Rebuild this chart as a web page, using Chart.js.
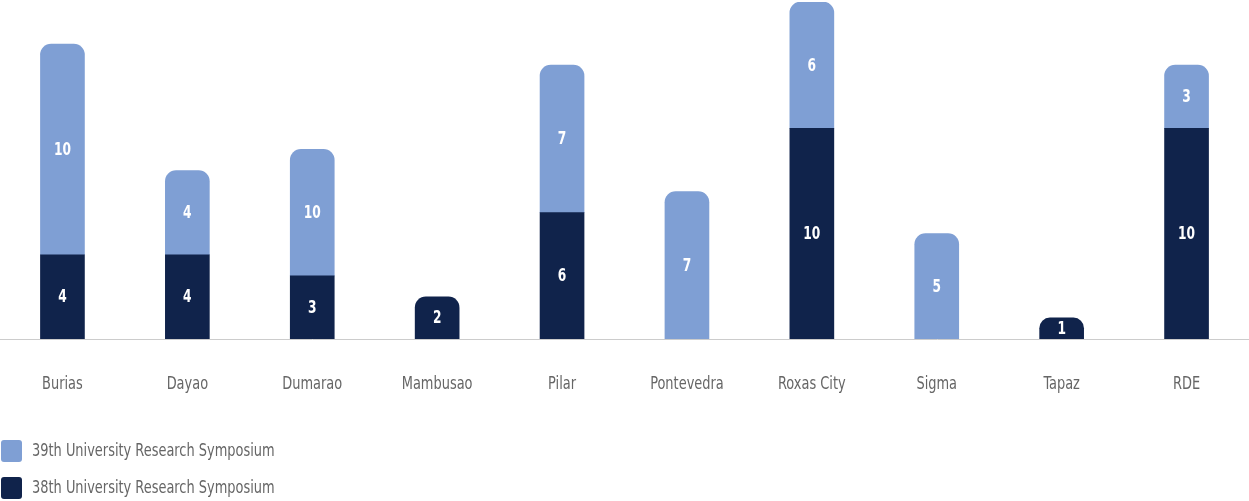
<!DOCTYPE html>
<html>
<head>
<meta charset="utf-8">
<script src="https://cdn.jsdelivr.net/npm/chart.js@4.4.1/dist/chart.umd.min.js"></script>
<style>
  html, body { margin: 0; padding: 0; background: #fff; }
  #wrap { width: 1249px; height: 501px; position: relative; }
</style>
</head>
<body>
<div id="wrap"><canvas id="chart"></canvas></div>
<script>
// Categories and series
const campuses = ["Burias", "Dayao", "Dumarao", "Mambusao", "Pilar", "Pontevedra", "Roxas City", "Sigma", "Tapaz", "RDE"];
const urs38 = [4, 4, 3, 2, 6, null, 10, null, 1, 10];
const urs39 = [10, 4, 6, null, 7, 7, 6, 5, null, 3];
// printed labels (Dumarao's light bar says 10 although it is drawn shorter)
const urs38Labels = ["4", "4", "3", "2", "6", "", "10", "", "1", "10"];
const urs39Labels = ["10", "4", "10", "", "7", "7", "6", "5", "", "3"];

const FONT = "'DejaVu Sans', sans-serif";
const LIGHT = "#7f9fd4";
const NAVY = "#10234b";
const GREY = "#666666";

// the original uses a narrow display face, so squeeze DejaVu Condensed a bit
function narrowText(c, txt, x, y, sx) {
  c.save();
  c.translate(x, y);
  c.scale(sx, 1);
  c.fillText(txt, 0, 0);
  c.restore();
}

// radius only on the topmost piece of each stack
function topRadius(ctx) {
  const i = ctx.dataIndex;
  const isTop = ctx.datasetIndex === 1 ? true : !urs39[i];
  return isTop ? { topLeft: 11, topRight: 11, bottomLeft: 0, bottomRight: 0 } : 0;
}

// white numbers in the middle of each bar
const barLabels = {
  id: "barLabels",
  afterDatasetsDraw(chart) {
    const c = chart.ctx;
    c.save();
    c.fillStyle = "#ffffff";
    c.font = "condensed bold 17px " + FONT;
    c.textAlign = "center";
    c.textBaseline = "middle";
    chart.data.datasets.forEach((ds, di) => {
      chart.getDatasetMeta(di).data.forEach((bar, i) => {
        const txt = ds.printed[i];
        if (!txt) return;
        narrowText(c, txt, bar.x, (bar.y + bar.base) / 2 + 1, 0.8);
      });
    });
    c.restore();
  },
};

// category names under the axis
const catLabels = {
  id: "catLabels",
  afterDraw(chart) {
    const c = chart.ctx;
    const xs = chart.scales.x;
    c.save();
    c.fillStyle = GREY;
    c.font = "condensed 18px " + FONT;
    c.textAlign = "center";
    c.textBaseline = "middle";
    chart.data.labels.forEach((lab, i) => {
      narrowText(c, lab, xs.getPixelForValue(i), chart.chartArea.bottom + 45, 0.8);
    });
    c.restore();
  },
};

// vertical legend, bottom-left
const sideLegend = {
  id: "sideLegend",
  afterDraw(chart) {
    const c = chart.ctx;
    const items = chart.data.datasets.slice().reverse();
    c.save();
    c.font = "condensed 18px " + FONT;
    c.textBaseline = "middle";
    items.forEach((ds, k) => {
      const y = 451 + k * 37;
      c.fillStyle = ds.backgroundColor;
      c.beginPath();
      c.roundRect(1, y - 11, 21, 22, 3);
      c.fill();
      c.fillStyle = GREY;
      narrowText(c, ds.label, 32, y, 0.8);
    });
    c.restore();
  },
};

new Chart(document.getElementById("chart"), {
  type: "bar",
  data: {
    labels: campuses,
    datasets: [
      {
        label: "38th University Research Symposium",
        data: urs38,
        printed: urs38Labels,
        backgroundColor: NAVY,
        borderRadius: topRadius,
        borderSkipped: false,
        barThickness: 44,
      },
      {
        label: "39th University Research Symposium",
        data: urs39,
        printed: urs39Labels,
        backgroundColor: LIGHT,
        borderRadius: topRadius,
        borderSkipped: false,
        barThickness: 44,
      },
    ],
  },
  options: {
    responsive: true,
    maintainAspectRatio: false,
    animation: false,
    layout: { padding: { top: 2, left: 0, right: 0, bottom: 162 } },
    plugins: {
      legend: { display: false },
      tooltip: { enabled: false },
    },
    scales: {
      x: {
        stacked: true,
        grid: { display: false, drawTicks: false },
        border: { display: true, color: "#cccccc", width: 1 },
        ticks: { display: false },
      },
      y: {
        stacked: true,
        display: false,
        min: 0,
        max: 16,
      },
    },
  },
  plugins: [barLabels, catLabels, sideLegend],
});
</script>
</body>
</html>
